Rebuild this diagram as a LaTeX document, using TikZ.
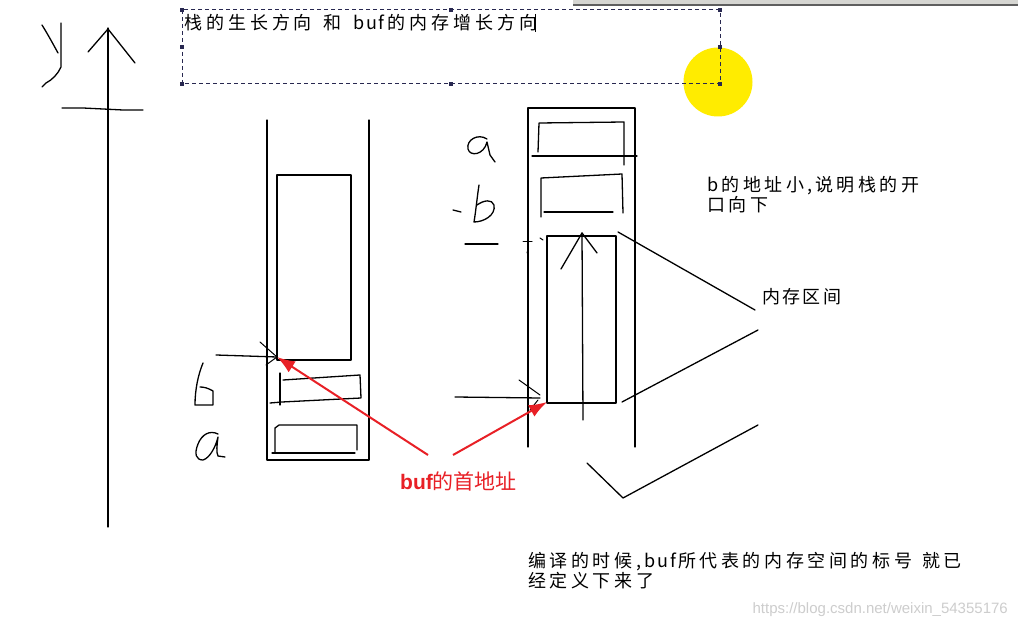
\documentclass[tikz,border=0pt]{standalone}
\usepackage{fontspec}
\usetikzlibrary{arrows.meta}
\newfontfamily\cjkT[LetterSpace=22]{Noto Sans CJK SC}
\newfontfamily\cjkNote[LetterSpace=19]{Noto Sans CJK SC}
\newfontfamily\cjkBot[LetterSpace=20]{Noto Sans CJK SC}
\newfontfamily\cjkR[LetterSpace=13]{Noto Sans CJK SC}
\newfontfamily\cjkN{Noto Sans CJK SC}
\newfontfamily\latinS{Liberation Sans}
\definecolor{arrowred}{RGB}{232,32,38}
\definecolor{handlec}{RGB}{40,40,80}
\definecolor{sunyellow}{RGB}{255,236,0}
\definecolor{barfill}{RGB}{214,214,210}
\definecolor{barline}{RGB}{95,95,95}
\definecolor{wmark}{RGB}{205,205,205}
\tikzset{
  pen/.style={line width=1.3pt, line cap=round, line join=round},
  thinpen/.style={line width=1pt, line cap=round, line join=round},
  redarrow/.style={draw=arrowred, line width=2pt, -{Latex[length=18pt,width=13pt]}},
  handle/.style={fill=handlec, minimum size=3.2pt, inner sep=0pt, draw=none, rectangle},
  lbl/.style={inner sep=0pt, align=left},
  txtT/.style={lbl, font=\fontsize{18}{20}\selectfont\cjkT},
  txtNote/.style={lbl, font=\fontsize{18}{20}\selectfont\cjkNote},
  txtBot/.style={lbl, font=\fontsize{18}{20}\selectfont\cjkBot},
  txtR/.style={lbl, font=\fontsize{18}{20}\selectfont\cjkR},
  selbox/.style={draw=handlec, line width=1pt, dash pattern=on 4pt off 3pt}
}
\begin{document}
\begin{tikzpicture}[x=1pt,y=-1pt]
\useasboundingbox (0,0) rectangle (1018,628);
\fill[white] (0,0) rectangle (1018,628);

% top-right window bar
\fill[barfill] (573,0) rectangle (1018,5);
\draw[barline, line width=2pt] (573,5.5) -- (1018,5.5);

% yellow cursor highlight
\fill[sunyellow] (718,82) circle (34.5);

% selection box with title
\draw[selbox] (182,10) rectangle (720,84);
\foreach \p in {(182,10),(451,10),(720,10),(182,47),(720,47),(182,84),(451,84),(720,84)}
  \node[handle] at \p {};
\node[txtT, anchor=west] (title) at (184,23) {栈的生长方向\hspace{12pt}和\hspace{12pt}b\hspace{1pt}u\hspace{1pt}f的内存增长方向};
\draw[line width=1pt] ([xshift=-2pt]title.east) ++(0,-9) -- ++(0,18);

% y axis
\draw[pen] (108,527) -- (108,28);
\draw[pen] (88,52) -- (108,29) -- (135,63);
\draw[pen] (62,108) -- (83,108) -- (123,110) -- (143,110);
% handwritten y
\draw[pen] (42,25) .. controls (47,33) and (52,42) .. (58,53);
\draw[pen] (61,23) -- (61,67) .. controls (58,74) and (52,80) .. (46,83) -- (42,87);

% left stack
\draw[pen] (267,120) -- (267,460) -- (369,460) -- (369,120);
\draw[pen] (277,175) rectangle (351,360);
% b slot
\draw[pen] (280,373) -- (280,405);
\draw[pen] (283,380) -- (360,375) -- (361,398) -- (282,402) -- (270,403);
% a slot
\draw[pen] (275,452) -- (275,428) -- (279,425) -- (357,425) -- (357,450);
\draw[pen] (272,453) -- (355,453);
% handwritten b
\draw[pen] (203,363) .. controls (198,375) and (195,390) .. (195,405) -- (213,405) -- (213,391) .. controls (208,388) and (204,387) .. (200,387);
% handwritten a
\draw[pen] (218,434) .. controls (210,430) and (202,434) .. (198,444) .. controls (194,454) and (196,460) .. (203,460) .. controls (210,458) and (216,446) .. (218,437) .. controls (217,445) and (216,452) .. (218,456) -- (225,457);
% black pointer arrow
\coordinate (bufA) at (277,357);
\draw[pen] (216,355) -- (bufA);
\draw[thinpen] (260,342) -- (bufA) -- (266,365);

% right stack
\draw[pen] (528,447) -- (528,108) -- (635,108) -- (635,447);
% a slot
\draw[pen] (538,152) -- (539,123) -- (624,122) -- (624,165);
\draw[pen] (532,156) -- (637,156);
% b slot
\draw[pen] (541,217) -- (541,178) -- (622,174) -- (623,213);
\draw[pen] (544,212) -- (613,212);
% buf area
\draw[pen] (547,236) rectangle (616,403);
\draw[pen] (583,420) -- (582,233);
\draw[pen] (561,269) -- (582,233) -- (597,253);
% ticks near the wall
\draw[thinpen] (523,242) -- (532,242);
\draw[thinpen] (527,252) -- (528,255);
\draw[thinpen] (540,238) -- (543,240);
% black pointer arrow
\coordinate (bufB) at (547,402);
\draw[pen] (455,397) -- (540,398);
\draw[thinpen] (519,380) -- (540,395);
\draw[thinpen] (530,410) -- (538,400);
% handwritten labels right
\draw[pen] (487,139) .. controls (478,133) and (466,140) .. (468,149) .. controls (470,157) and (484,155) .. (487,142) -- (490,155) -- (495,162);
\draw[pen] (453,210) -- (461,212);
\draw[pen] (479,185) .. controls (477,198) and (476,210) .. (474,222) .. controls (484,222) and (496,215) .. (494,205) .. controls (492,199) and (484,200) .. (477,205);
\draw[pen] (465,244) -- (498,244);

% lines to memory-range label
\draw[pen] (618,232) -- (755,310);
\draw[pen] (622,402) -- (758,330);
\draw[pen] (587,463) -- (623,498) -- (758,425);

% texts
\node[txtR, anchor=west] (range) at (762,297) {内存区间};
\node[txtNote, anchor=north west] (note) at (707,176) {b的地址小,\hspace{3pt}说明栈的开\\口向下};
\node[txtBot, anchor=north west] (compile) at (528,552) {编译的时候,\hspace{3pt}b\hspace{2pt}u\hspace{2pt}f\hspace{2pt}所代表的内存空间的标号\hspace{10pt}就已\\经定义下来了};
\node[lbl, anchor=west, text=arrowred] (buflbl) at (400,481) {\fontsize{21}{24}\selectfont{\latinS\bfseries buf}\cjkN 的首地址};
\node[lbl, anchor=east, text=wmark, font=\fontsize{15}{17}\selectfont\latinS] (wm) at (1008,610) {https://blog.csdn.net/weixin\_54355176};

% red arrows
\coordinate (t1) at (428,455);
\coordinate (t2) at (453,455);
\draw[redarrow] (t1) -- (bufA);
\draw[redarrow] (t2) -- (bufB);
\end{tikzpicture}
\end{document}
